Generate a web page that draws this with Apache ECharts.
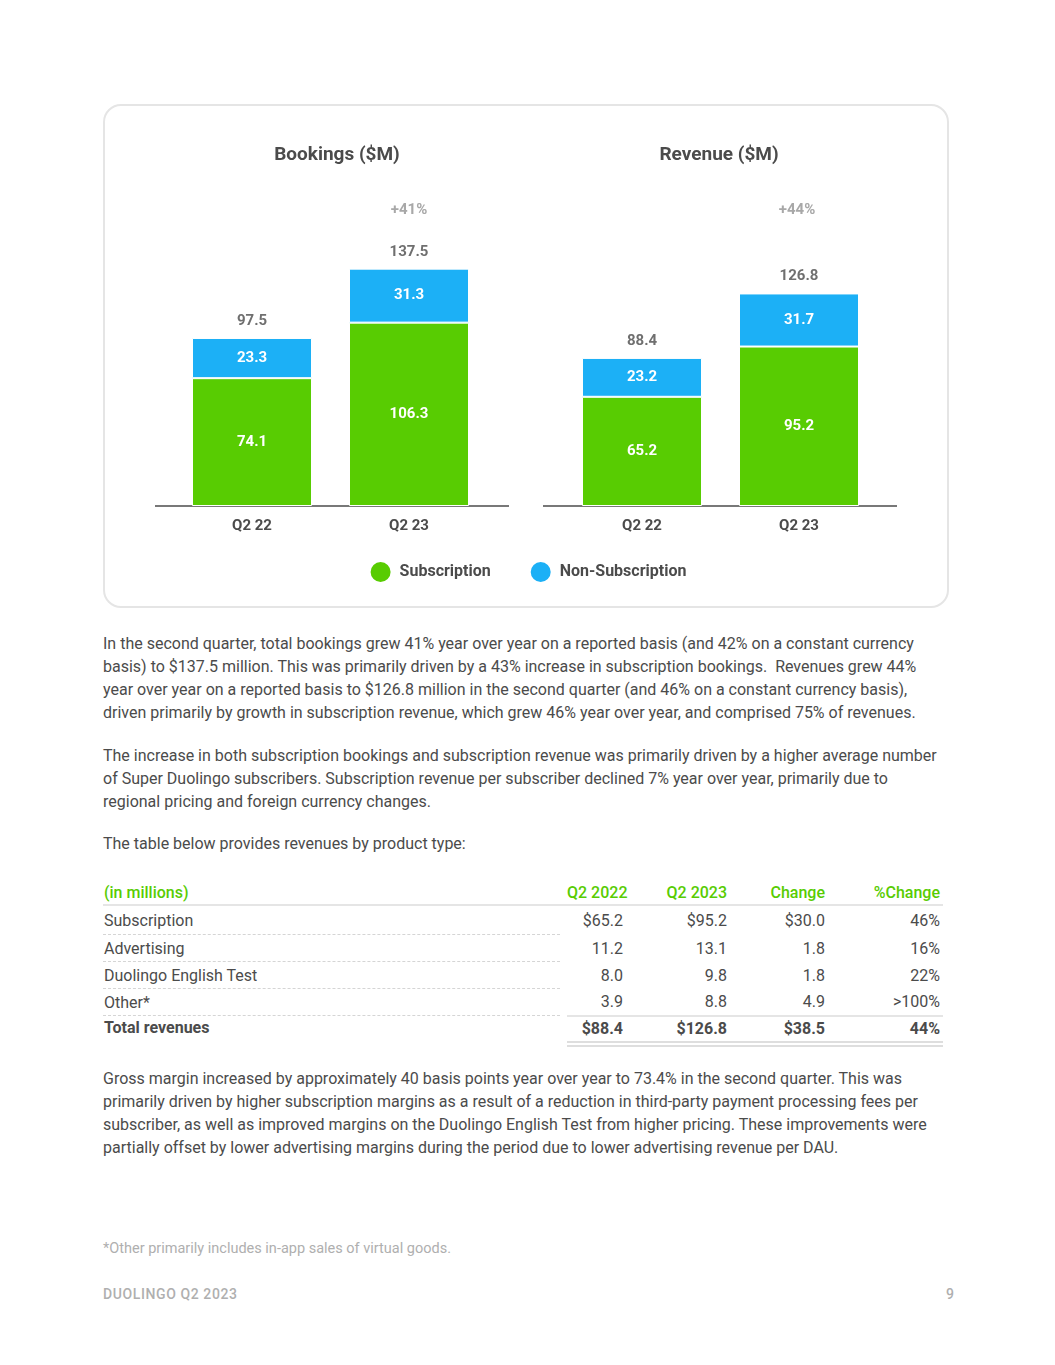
<!DOCTYPE html>
<html>
<head>
<meta charset="utf-8">
<script src="https://cdn.jsdelivr.net/npm/echarts@6/dist/echarts.min.js"></script>
<style>
  html, body { margin: 0; padding: 0; background: #fff; }
  body { width: 1055px; height: 1365px; position: relative; overflow: hidden; font-family: Roboto, "Noto Sans", sans-serif; color: #4b4b4b; }
  #card { position: absolute; left: 103px; top: 104px; width: 846px; height: 504px; box-sizing: border-box; border: 2px solid #e5e5e5; border-radius: 18px; }
  #chart { position: absolute; left: 0; top: 0; width: 1055px; height: 620px; }
  .p { position: absolute; left: 103px; font-size: 16px; line-height: 23px; white-space: nowrap; color: #4b4b4b; }
  #tbl { position: absolute; left: 103px; top: 880px; border-collapse: collapse; font-size: 16px; color: #4b4b4b; table-layout: fixed; }
  #tbl td { padding: 0; white-space: nowrap; }
  #tbl tr.h td { height: 24px; color: #58cc02; font-weight: 500; border-bottom: 2px solid #e5e5e5; vertical-align: middle; }
  #tbl tr.h2 td { height: 2px; }
  #tbl tr.r td { height: 26px; vertical-align: middle; }
  #tbl tr.r td.lab { border-bottom: 1px dashed #d5d5d5; padding-left: 1px; }
  #tbl tr.last td.num { border-bottom: 2px solid #e5e5e5; }
  #tbl tr.tot td { height: 24px; font-weight: 700; vertical-align: middle; }
  #tbl tr.tot td.num { border-bottom: 6px double #dedede; }
  .num { text-align: right; }
  #foot { position: absolute; left: 103px; top: 1240px; font-size: 14.5px; color: #afafaf; }
  #brand { position: absolute; left: 103px; top: 1286px; font-size: 14px; color: #afafaf; font-weight: 500; letter-spacing: 0.6px; }
  #page { position: absolute; left: 946px; top: 1286px; font-size: 14px; color: #afafaf; font-weight: 500; }
</style>
</head>
<body>
<div id="card"></div>
<div id="chart"></div>

<div class="p" style="top:632px">In the second quarter, total bookings grew 41% year over year on a reported basis (and 42% on a constant currency<br>basis) to $137.5 million. This was primarily driven by a 43% increase in subscription bookings.&nbsp; Revenues grew 44%<br>year over year on a reported basis to $126.8 million in the second quarter (and 46% on a constant currency basis),<br>driven primarily by growth in subscription revenue, which grew 46% year over year, and comprised 75% of revenues.</div>

<div class="p" style="top:744px">The increase in both subscription bookings and subscription revenue was primarily driven by a higher average number<br>of Super Duolingo subscribers. Subscription revenue per subscriber declined 7% year over year, primarily due to<br>regional pricing and foreign currency changes.</div>

<div class="p" style="top:832px">The table below provides revenues by product type:</div>

<table id="tbl"></table>

<div class="p" style="top:1067px">Gross margin increased by approximately 40 basis points year over year to 73.4% in the second quarter. This was<br>primarily driven by higher subscription margins as a result of a reduction in third-party payment processing fees per<br>subscriber, as well as improved margins on the Duolingo English Test from higher pricing. These improvements were<br>partially offset by lower advertising margins during the period due to lower advertising revenue per DAU.</div>

<div id="foot">*Other primarily includes in-app sales of virtual goods.</div>
<div id="brand">DUOLINGO Q2 2023</div>
<div id="page">9</div>

<script>
// ---- chart data ----
const categories = ['Q2 22', 'Q2 23'];
const seriesNames = ['Subscription', 'Non-Subscription'];
const bookingsSub = [74.1, 106.3];
const bookingsNonSub = [23.3, 31.3];
const bookingsTotal = [97.5, 137.5];
const revenueSub = [65.2, 95.2];
const revenueNonSub = [23.2, 31.7];
const revenueTotal = [88.4, 126.8];
const chartTitles = ['Bookings ($M)', 'Revenue ($M)'];
const growthLabels = ['+41%', '+44%'];

// ---- table data ----
const tableHeader = ['(in millions)', 'Q2 2022', 'Q2 2023', 'Change', '%Change'];
const tableLabels = ['Subscription', 'Advertising', 'Duolingo English Test', 'Other*'];
const tableQ22 = ['$65.2', '11.2', '8.0', '3.9'];
const tableQ23 = ['$95.2', '13.1', '9.8', '8.8'];
const tableChange = ['$30.0', '1.8', '1.8', '4.9'];
const tablePct = ['46%', '16%', '22%', '>100%'];
const tableTotal = ['Total revenues', '$88.4', '$126.8', '$38.5', '44%'];

// build table
(function () {
  const t = document.getElementById('tbl');
  const widths = [457, 7, 56, 104, 98, 115, 3];
  let html = '<colgroup>' + widths.map(w => '<col style="width:' + w + 'px">').join('') + '</colgroup>';
  html += '<tr class="h"><td style="padding-left:1px">' + tableHeader[0] + '</td><td></td>' +
    tableHeader.slice(1).map(h => '<td class="num">' + h + '</td>').join('') + '<td></td></tr>';
  tableLabels.forEach((lab, i) => {
    const last = i === tableLabels.length - 1 ? ' last' : '';
    const h = i === 0 ? ' style="height:28px"' : '';
    html += '<tr class="r' + last + '"' + h + '><td class="lab"' + h + '>' + lab + '</td><td></td>' +
      [tableQ22[i], tableQ23[i], tableChange[i], tablePct[i]].map(v => '<td class="num">' + v + '</td>').join('') +
      '<td class="num"></td></tr>';
  });
  html += '<tr class="tot"><td style="padding-left:1px;vertical-align:top;padding-top:2px">' + tableTotal[0] + '</td><td></td>' +
    tableTotal.slice(1).map(v => '<td class="num">' + v + '</td>').join('') + '<td class="num"></td></tr>';
  t.innerHTML = html;
  t.style.width = widths.reduce((a, b) => a + b, 0) + 'px';
})();

const GREEN = '#58cc02';
const BLUE = '#1cb0f6';
const DARK = '#4b4b4b';
const FONT = 'Roboto, "Noto Sans", sans-serif';

const chart = echarts.init(document.getElementById('chart'), null, { renderer: 'canvas' });

function barSeries(name, data, color, axisIdx) {
  return {
    name: name, type: 'bar', stack: 's' + axisIdx, data: data,
    xAxisIndex: axisIdx, yAxisIndex: axisIdx, barWidth: 120,
    itemStyle: { color: color, borderColor: '#fff', borderWidth: 1 },
    label: { show: true, position: 'inside', color: '#fff', fontWeight: 'bold', fontSize: 15, fontFamily: FONT },
    emphasis: { disabled: true },
    animation: false
  };
}
function totalSeries(totals, axisIdx) {
  return {
    type: 'scatter', data: totals, xAxisIndex: axisIdx, yAxisIndex: axisIdx,
    symbolSize: 1, itemStyle: { color: 'rgba(0,0,0,0)' },
    label: { show: true, position: 'top', distance: 9, color: DARK, fontWeight: 'bold', fontSize: 15, fontFamily: FONT },
    animation: false, silent: true
  };
}
const xAxisCommon = {
  type: 'category', data: categories,
  axisLine: { show: false }, axisTick: { show: false },
  axisLabel: { color: DARK, fontWeight: 'bold', fontSize: 15, fontFamily: FONT, margin: 13 }
};
const yAxisCommon = { type: 'value', min: 0, max: 160, show: false, splitLine: { show: false } };

chart.setOption({
  animation: false,
  textStyle: { fontFamily: FONT },
  grid: [
    { left: 173.5, width: 314, top: 230, height: 276 },
    { left: 563.5, width: 314, top: 238, height: 268 }
  ],
  xAxis: [Object.assign({ gridIndex: 0 }, xAxisCommon), Object.assign({ gridIndex: 1 }, xAxisCommon)],
  yAxis: [Object.assign({ gridIndex: 0 }, yAxisCommon), Object.assign({ gridIndex: 1 }, yAxisCommon)],
  legend: {
    data: seriesNames, left: 'center', top: 555, icon: 'circle', itemWidth: 22, itemHeight: 22, itemGap: 38,
    textStyle: { color: DARK, fontWeight: 'bold', fontSize: 16, fontFamily: FONT, padding: [0, 0, 0, 3] }, selectedMode: false
  },
  graphic: [
    { type: 'line', shape: { x1: 155, y1: 506, x2: 509, y2: 506 }, style: { stroke: DARK, lineWidth: 1.5 } },
    { type: 'line', shape: { x1: 543, y1: 506, x2: 897, y2: 506 }, style: { stroke: DARK, lineWidth: 1.5 } },
    { type: 'text', x: 337, y: 155, style: { text: chartTitles[0], align: 'center', verticalAlign: 'middle', fill: DARK, font: 'bold 19px ' + FONT } },
    { type: 'text', x: 719, y: 155, style: { text: chartTitles[1], align: 'center', verticalAlign: 'middle', fill: DARK, font: 'bold 19px ' + FONT } },
    { type: 'text', x: 409, y: 210, style: { text: growthLabels[0], align: 'center', verticalAlign: 'middle', fill: '#a8a8a8', font: 'bold 15px ' + FONT } },
    { type: 'text', x: 797, y: 210, style: { text: growthLabels[1], align: 'center', verticalAlign: 'middle', fill: '#a8a8a8', font: 'bold 15px ' + FONT } }
  ],
  series: [
    barSeries(seriesNames[0], bookingsSub, GREEN, 0),
    barSeries(seriesNames[1], bookingsNonSub, BLUE, 0),
    totalSeries(bookingsTotal, 0),
    barSeries(seriesNames[0], revenueSub, GREEN, 1),
    barSeries(seriesNames[1], revenueNonSub, BLUE, 1),
    totalSeries(revenueTotal, 1)
  ]
});
</script>
</body>
</html>
